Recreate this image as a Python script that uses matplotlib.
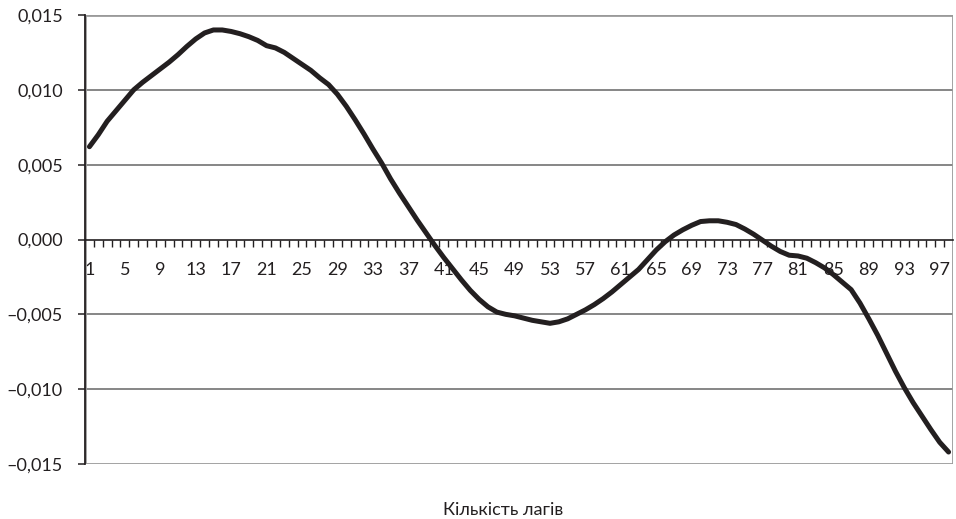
import numpy as np
import matplotlib
matplotlib.use("Agg")
import matplotlib.pyplot as plt
from matplotlib.patches import Rectangle
from matplotlib.ticker import FuncFormatter

# lag numbers and autocorrelation values (x1e-3)
lags = list(range(1, 99))
values_e3 = [
    6.2, 7.0, 7.9, 8.6, 9.3, 10.0, 10.5, 10.95, 11.4, 11.85,
    12.35, 12.9, 13.4, 13.8, 14.0, 14.0, 13.9, 13.75, 13.55, 13.3,
    12.95, 12.8, 12.5, 12.1, 11.7, 11.3, 10.8, 10.35, 9.7, 8.9,
    8.0, 7.05, 6.05, 5.1, 4.05, 3.1, 2.2, 1.3, 0.45, -0.4,
    -1.2, -1.95, -2.7, -3.4, -4.0, -4.5, -4.85, -5.0, -5.1, -5.25,
    -5.4, -5.5, -5.6, -5.5, -5.3, -5.0, -4.7, -4.35, -3.95, -3.5,
    -3.0, -2.5, -2.0, -1.35, -0.7, -0.15, 0.3, 0.65, 0.95, 1.2,
    1.25, 1.25, 1.15, 1.0, 0.7, 0.35, -0.05, -0.45, -0.8, -1.05,
    -1.1, -1.25, -1.55, -1.9, -2.35, -2.85, -3.35, -4.25, -5.3, -6.4,
    -7.6, -8.8, -9.9, -10.9, -11.8, -12.7, -13.55, -14.2,
]
values = [v / 1000 for v in values_e3]
tick_lags = list(range(1, 98, 4))
y_ticks = [-0.015, -0.010, -0.005, 0.0, 0.005, 0.010, 0.015]
x_title = "Кількість лагів"

plt.rcParams["font.family"] = ["Lato", "DejaVu Sans"]
text_color = "#231f20"

fig = plt.figure(figsize=(9.56, 5.19), dpi=100)
ax = fig.add_axes([85 / 956, 1 - 464 / 519, 868 / 956, 449 / 519])

ax.plot(lags, values, color=text_color, lw=3.6, solid_capstyle="round",
        solid_joinstyle="round", zorder=5)

ax.set_xlim(0.5, 98.5)
ax.set_ylim(-0.015, 0.015)

# grid lines
for y in y_ticks[1:-1]:
    if y != 0:
        ax.axhline(y, color="#666666", lw=1.1, zorder=1)

# plot area border
ax.add_patch(Rectangle((0, 0), 1, 1, transform=ax.transAxes, fill=False,
                       edgecolor="#9a9a9a", lw=2, zorder=2))

for s in ["top", "right"]:
    ax.spines[s].set_visible(False)
ax.spines["left"].set_color(text_color)
ax.spines["left"].set_linewidth(1.3)
ax.spines["left"].set_zorder(3)
ax.spines["bottom"].set_position(("data", 0))
ax.spines["bottom"].set_color(text_color)
ax.spines["bottom"].set_linewidth(1.2)

ax.set_yticks(y_ticks)
ax.yaxis.set_major_formatter(FuncFormatter(
    lambda v, p: ("\u2013" if v < -1e-12 else "") + f"{abs(v):.3f}".replace(".", ",")))
ax.tick_params(axis="y", direction="out", length=5, width=1.1, color=text_color,
               pad=11, labelsize=13, labelcolor=text_color)

ax.set_xticks(tick_lags)
ax.set_xticklabels([str(t) for t in tick_lags])
ax.set_xticks([k + 0.5 for k in lags[:-1]], minor=True)
ax.tick_params(axis="x", which="major", length=0, pad=16, labelsize=13,
               labelcolor=text_color)
ax.tick_params(axis="x", which="minor", direction="out", length=5, width=1,
               color=text_color)

fig.text(503 / 956, 1 - 510 / 519, x_title, ha="center", va="center",
         fontsize=13, color=text_color)

fig.savefig("out.png", dpi=100)
